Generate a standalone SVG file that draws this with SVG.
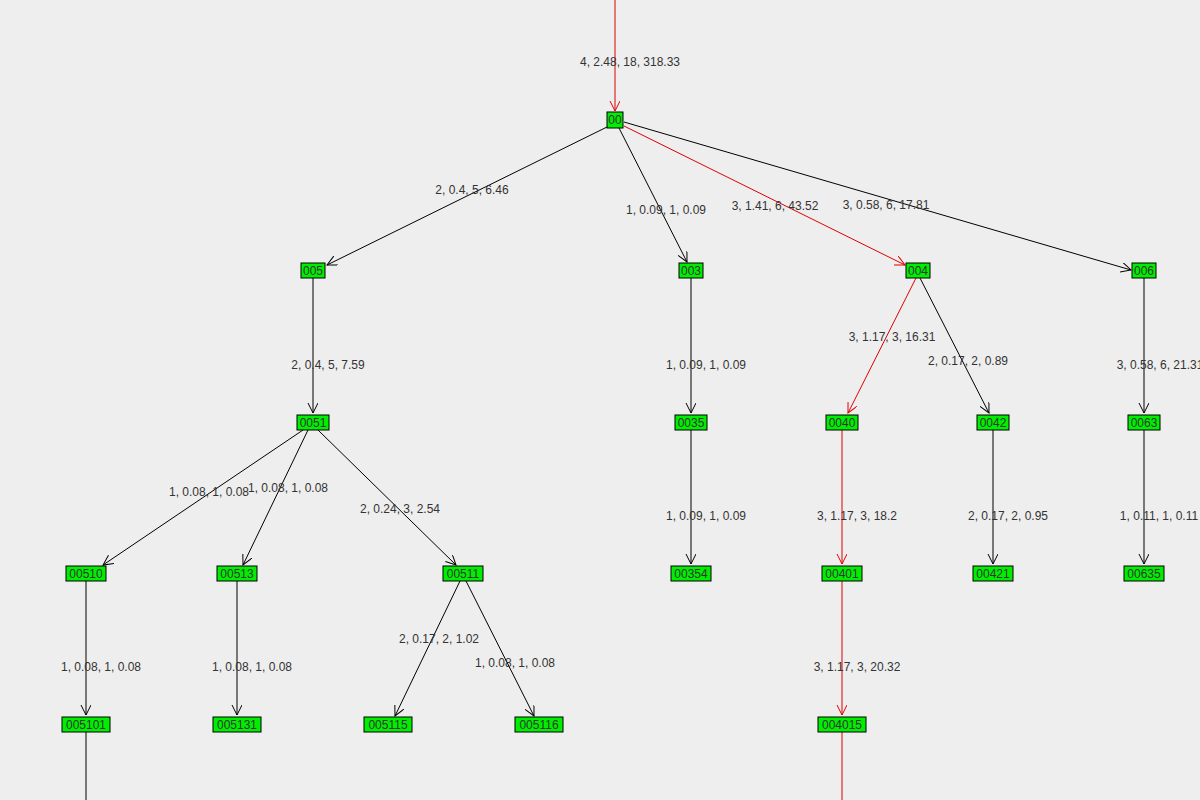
<svg xmlns="http://www.w3.org/2000/svg" width="1200" height="800" viewBox="0 0 1200 800">
<style>
.n rect{fill:#00ee00;stroke:#000;stroke-width:1}
.n text{font-family:"Liberation Sans",sans-serif;font-size:12px;fill:#333;text-anchor:middle}
.e line{stroke:#000;stroke-width:1;marker-end:url(#ab)}
.e line.r{stroke:#e00000;marker-end:url(#ar)}
.e line.nm{marker-end:none}
.l{font-family:"Liberation Sans",sans-serif;font-size:12px;fill:#333;text-anchor:middle}
</style>
<defs>
<marker id="ab" markerWidth="12" markerHeight="12" refX="10" refY="5" orient="auto" markerUnits="userSpaceOnUse"><path d="M0,0 L10,5 L0,10" fill="none" stroke="#000"/></marker>
<marker id="ar" markerWidth="12" markerHeight="12" refX="10" refY="5" orient="auto" markerUnits="userSpaceOnUse"><path d="M0,0 L10,5 L0,10" fill="none" stroke="#e00000"/></marker>
</defs>
<rect width="1200" height="800" fill="#eeeeee"/>
<g id="connectors" class="e">
<line class="r" x1="615" y1="0" x2="615" y2="111"/>
<line x1="607" y1="127" x2="327" y2="265"/>
<line x1="619" y1="128" x2="687" y2="262"/>
<line class="r" x1="624" y1="126" x2="905" y2="265"/>
<line x1="624" y1="122" x2="1131" y2="270"/>
<line x1="313" y1="278" x2="313" y2="413"/>
<line x1="691" y1="278" x2="691" y2="413"/>
<line class="r" x1="916" y1="278" x2="848" y2="413"/>
<line x1="920" y1="278" x2="989" y2="413"/>
<line x1="1144" y1="278" x2="1144" y2="413"/>
<line x1="303" y1="430" x2="103" y2="565"/>
<line x1="308" y1="430" x2="243" y2="565"/>
<line x1="318" y1="430" x2="456" y2="565"/>
<line x1="691" y1="430" x2="691" y2="564"/>
<line class="r" x1="842" y1="430" x2="842" y2="564"/>
<line x1="993" y1="430" x2="993" y2="564"/>
<line x1="1144" y1="430" x2="1144" y2="564"/>
<line x1="86" y1="581" x2="86" y2="715"/>
<line x1="237" y1="581" x2="237" y2="715"/>
<line x1="460" y1="581" x2="395" y2="716"/>
<line x1="466" y1="581" x2="534" y2="716"/>
<line class="r" x1="842" y1="581" x2="842" y2="715"/>
<line class="r nm" x1="842" y1="732" x2="842" y2="800"/>
<line class="nm" x1="86" y1="732" x2="86" y2="800"/>
</g>
<g id="labels">
<text class="l" x="630" y="66">4, 2.48, 18, 318.33</text>
<text class="l" x="472" y="194">2, 0.4, 5, 6.46</text>
<text class="l" x="666" y="214">1, 0.09, 1, 0.09</text>
<text class="l" x="775" y="210">3, 1.41, 6, 43.52</text>
<text class="l" x="886" y="209">3, 0.58, 6, 17.81</text>
<text class="l" x="328" y="369">2, 0.4, 5, 7.59</text>
<text class="l" x="706" y="369">1, 0.09, 1, 0.09</text>
<text class="l" x="892" y="341">3, 1.17, 3, 16.31</text>
<text class="l" x="968" y="365">2, 0.17, 2, 0.89</text>
<text class="l" x="1160" y="369">3, 0.58, 6, 21.31</text>
<text class="l" x="209" y="496">1, 0.08, 1, 0.08</text>
<text class="l" x="288" y="492">1, 0.08, 1, 0.08</text>
<text class="l" x="400" y="513">2, 0.24, 3, 2.54</text>
<text class="l" x="706" y="520">1, 0.09, 1, 0.09</text>
<text class="l" x="857" y="520">3, 1.17, 3, 18.2</text>
<text class="l" x="1008" y="520">2, 0.17, 2, 0.95</text>
<text class="l" x="1159" y="520">1, 0.11, 1, 0.11</text>
<text class="l" x="101" y="671">1, 0.08, 1, 0.08</text>
<text class="l" x="252" y="671">1, 0.08, 1, 0.08</text>
<text class="l" x="439" y="643">2, 0.17, 2, 1.02</text>
<text class="l" x="515" y="667">1, 0.08, 1, 0.08</text>
<text class="l" x="857" y="671">3, 1.17, 3, 20.32</text>
</g>
<g id="n00" class="n"><rect x="607" y="112" width="16" height="16"/><text x="615" y="124">00</text></g>
<g id="n005" class="n"><rect x="301" y="263" width="24" height="15"/><text x="313" y="275">005</text></g>
<g id="n003" class="n"><rect x="679" y="263" width="24" height="15"/><text x="691" y="275">003</text></g>
<g id="n004" class="n"><rect x="906" y="263" width="24" height="15"/><text x="918" y="275">004</text></g>
<g id="n006" class="n"><rect x="1132" y="263" width="24" height="15"/><text x="1144" y="275">006</text></g>
<g id="n0051" class="n"><rect x="297" y="415" width="32" height="15"/><text x="313" y="427">0051</text></g>
<g id="n0035" class="n"><rect x="675" y="415" width="32" height="15"/><text x="691" y="427">0035</text></g>
<g id="n0040" class="n"><rect x="826" y="415" width="32" height="15"/><text x="842" y="427">0040</text></g>
<g id="n0042" class="n"><rect x="977" y="415" width="32" height="15"/><text x="993" y="427">0042</text></g>
<g id="n0063" class="n"><rect x="1128" y="415" width="32" height="15"/><text x="1144" y="427">0063</text></g>
<g id="n00510" class="n"><rect x="66" y="566" width="40" height="15"/><text x="86" y="578">00510</text></g>
<g id="n00513" class="n"><rect x="217" y="566" width="40" height="15"/><text x="237" y="578">00513</text></g>
<g id="n00511" class="n"><rect x="443" y="566" width="40" height="15"/><text x="463" y="578">00511</text></g>
<g id="n00354" class="n"><rect x="671" y="566" width="40" height="15"/><text x="691" y="578">00354</text></g>
<g id="n00401" class="n"><rect x="822" y="566" width="40" height="15"/><text x="842" y="578">00401</text></g>
<g id="n00421" class="n"><rect x="973" y="566" width="40" height="15"/><text x="993" y="578">00421</text></g>
<g id="n00635" class="n"><rect x="1124" y="566" width="40" height="15"/><text x="1144" y="578">00635</text></g>
<g id="n005101" class="n"><rect x="62" y="717" width="48" height="15"/><text x="86" y="729">005101</text></g>
<g id="n005131" class="n"><rect x="213" y="717" width="48" height="15"/><text x="237" y="729">005131</text></g>
<g id="n005115" class="n"><rect x="364" y="717" width="48" height="15"/><text x="388" y="729">005115</text></g>
<g id="n005116" class="n"><rect x="515" y="717" width="48" height="15"/><text x="539" y="729">005116</text></g>
<g id="n004015" class="n"><rect x="818" y="717" width="48" height="15"/><text x="842" y="729">004015</text></g>
</svg>
